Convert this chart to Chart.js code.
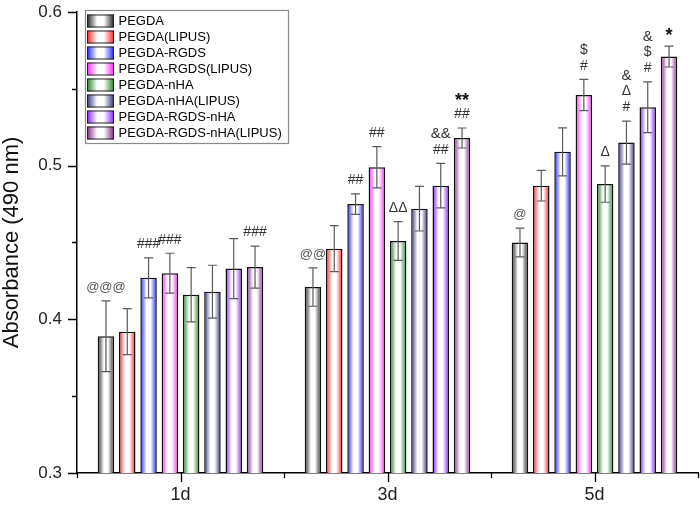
<!DOCTYPE html>
<html>
<head>
<meta charset="utf-8">
<script src="https://cdn.jsdelivr.net/npm/chart.js@4.4.1/dist/chart.umd.min.js"></script>
<style>
html,body{margin:0;padding:0;background:#fff;}
#wrap{width:700px;height:505px;}
</style>
</head>
<body>
<div id="wrap"><canvas id="c" width="700" height="505"></canvas></div>
<script>
// ---------- data ----------
const categories = ['1d', '3d', '5d'];
const seriesNames = ['PEGDA', 'PEGDA(LIPUS)', 'PEGDA-RGDS', 'PEGDA-RGDS(LIPUS)', 'PEGDA-nHA', 'PEGDA-nHA(LIPUS)', 'PEGDA-RGDS-nHA', 'PEGDA-RGDS-nHA(LIPUS)'];
const seriesColors = ['#1a1a1a', '#ff1a1a', '#1a1aff', '#ff1aff', '#1f7a1f', '#2a2a80', '#7f1aff', '#7f1a7f'];

const valPEGDA          = [0.389, 0.421, 0.450];
const valPEGDA_LIPUS    = [0.392, 0.446, 0.487];
const valRGDS           = [0.427, 0.475, 0.509];
const valRGDS_LIPUS     = [0.430, 0.499, 0.546];
const valNHA            = [0.416, 0.451, 0.488];
const valNHA_LIPUS      = [0.418, 0.472, 0.515];
const valRGDS_NHA       = [0.433, 0.487, 0.538];
const valRGDS_NHA_LIPUS = [0.434, 0.518, 0.571];

const errPEGDA          = [0.023, 0.0125, 0.0093];
const errPEGDA_LIPUS    = [0.015, 0.015, 0.010];
const errRGDS           = [0.013, 0.0067, 0.0156];
const errRGDS_LIPUS     = [0.013, 0.0134, 0.0102];
const errNHA            = [0.0176, 0.0126, 0.0118];
const errNHA_LIPUS      = [0.0172, 0.0145, 0.014];
const errRGDS_NHA       = [0.0195, 0.0145, 0.0165];
const errRGDS_NHA_LIPUS = [0.0137, 0.0065, 0.0068];

// significance marks, top line first
const sigPEGDA          = ['@@@', '@@', '@'];
const sigPEGDA_LIPUS    = ['', '', ''];
const sigRGDS           = ['###', '##', ''];
const sigRGDS_LIPUS     = ['###', '##', '$\n#'];
const sigNHA            = ['', 'ΔΔ', 'Δ'];
const sigNHA_LIPUS      = ['', '', '&\nΔ\n#'];
const sigRGDS_NHA       = ['', '&&\n##', '&\n$\n#'];
const sigRGDS_NHA_LIPUS = ['###', '**\n##', '*'];

const yTicks = [0.3, 0.35, 0.4, 0.45, 0.5, 0.55, 0.6];
const yTickLabels = ['0.3', '', '0.4', '', '0.5', '', '0.6'];
const yTitle = 'Absorbance (490 nm)';

const allValues = [valPEGDA, valPEGDA_LIPUS, valRGDS, valRGDS_LIPUS, valNHA, valNHA_LIPUS, valRGDS_NHA, valRGDS_NHA_LIPUS];
const allErrors = [errPEGDA, errPEGDA_LIPUS, errRGDS, errRGDS_LIPUS, errNHA, errNHA_LIPUS, errRGDS_NHA, errRGDS_NHA_LIPUS];
const allSigs = [sigPEGDA, sigPEGDA_LIPUS, sigRGDS, sigRGDS_LIPUS, sigNHA, sigNHA_LIPUS, sigRGDS_NHA, sigRGDS_NHA_LIPUS];

// ---------- helpers ----------
const FONT = "'Liberation Sans', Arial, Helvetica, sans-serif";
function hexToRgb(h) { const n = parseInt(h.slice(1), 16); return [(n >> 16) & 255, (n >> 8) & 255, n & 255]; }
function mix(h, t) { const [r, g, b] = hexToRgb(h); const f = c => Math.round(c + (255 - c) * t); return `rgb(${f(r)},${f(g)},${f(b)})`; }
function makeGrad(ctx, x0, x1, color) {
  const g = ctx.createLinearGradient(x0, 0, x1, 0);
  g.addColorStop(0, color);
  g.addColorStop(0.1, mix(color, 0.3));
  g.addColorStop(0.38, '#ffffff');
  g.addColorStop(0.62, '#ffffff');
  g.addColorStop(0.9, mix(color, 0.3));
  g.addColorStop(1, color);
  return g;
}

const decor = {
  id: 'decor',
  beforeDatasetsDraw(chart) {
    const ctx = chart.ctx;
    chart.data.datasets.forEach((ds, i) => {
      const meta = chart.getDatasetMeta(i);
      meta.data.forEach(el => {
        const p = el.getProps(['x', 'width'], true);
        el.options.backgroundColor = makeGrad(ctx, p.x - p.width / 2, p.x + p.width / 2, seriesColors[i]);
      });
    });
  },
  afterDatasetsDraw(chart) {
    const ctx = chart.ctx;
    const ys = chart.scales.y, xs = chart.scales.x;
    const area = chart.chartArea;
    ctx.save();
    chart.data.datasets.forEach((ds, i) => {
      const meta = chart.getDatasetMeta(i);
      meta.data.forEach((el, j) => {
        const v = allValues[i][j], e = allErrors[i][j];
        const x = el.x;
        const yt = ys.getPixelForValue(v + e), yb = ys.getPixelForValue(v - e);
        ctx.strokeStyle = '#5a5a5a';
        ctx.lineWidth = 1.2;
        ctx.beginPath();
        ctx.moveTo(x, yt); ctx.lineTo(x, yb);
        ctx.moveTo(x - 4.5, yt); ctx.lineTo(x + 4.5, yt);
        ctx.moveTo(x - 4.5, yb); ctx.lineTo(x + 4.5, yb);
        ctx.stroke();
        const s = allSigs[i][j];
        if (s) {
          const lines = s.split('\n').reverse();
          let yc = yt - 13.5;
          ctx.textAlign = 'center';
          ctx.textBaseline = 'middle';
          lines.forEach(line => {
            let size = 14, weight = 'normal', col = '#333';
            if (line.includes('*')) { size = 18; weight = 'bold'; col = '#111'; yc += 3; }
            else if (line.includes('&')) { size = 15; }
            else if (line.includes('@')) { col = '#555'; size = 13; }
            ctx.font = `${weight} ${size}px ${FONT}`;
            ctx.fillStyle = col;
            ctx.fillText(line, x, yc);
            yc -= 16;
          });
        }
      });
    });
    ctx.strokeStyle = '#000';
    ctx.lineWidth = 1.3;
    ctx.beginPath();
    yTicks.forEach((t, k) => {
      const y = Math.round(ys.getPixelForValue(t)) + 0.5;
      const len = yTickLabels[k] ? 9 : 5;
      ctx.moveTo(area.left - len, y); ctx.lineTo(area.left, y);
    });
    categories.forEach((c, j) => {
      const x = Math.round(xs.getPixelForValue(j)) + 0.5;
      ctx.moveTo(x, area.bottom); ctx.lineTo(x, area.bottom + 9);
    });
    for (let j = 0; j <= categories.length; j++) {
      const x = Math.round(xs.getPixelForValue(j - 0.5)) + 0.5;
      ctx.moveTo(x, area.bottom); ctx.lineTo(x, area.bottom + 5);
    }
    ctx.stroke();
    ctx.restore();
  },
  afterDraw(chart) {
    const ctx = chart.ctx;
    const bx = 85.5, by = 10.5, bw = 203, bh = 133;
    ctx.save();
    ctx.fillStyle = '#fff';
    ctx.fillRect(bx, by, bw, bh);
    ctx.strokeStyle = '#8a8a8a';
    ctx.lineWidth = 1.2;
    ctx.strokeRect(bx, by, bw, bh);
    chart.data.datasets.forEach((ds, i) => {
      const cy = 21 + i * 16;
      const sx = 87, sw = 27, sh = 13, sy = cy - sh / 2;
      ctx.fillStyle = makeGrad(ctx, sx, sx + sw, seriesColors[i]);
      ctx.fillRect(sx, sy, sw, sh);
      ctx.lineWidth = 1;
      ctx.strokeStyle = '#222';
      ctx.strokeRect(sx + 0.5, sy + 0.5, sw - 1, sh - 1);
      ctx.fillStyle = '#000';
      ctx.font = `13px ${FONT}`;
      ctx.textAlign = 'left';
      ctx.textBaseline = 'middle';
      ctx.fillText(ds.label, 118.5, cy + 0.5);
    });
    ctx.restore();
  }
};

Chart.defaults.font.family = FONT;

new Chart(document.getElementById('c').getContext('2d'), {
  type: 'bar',
  data: {
    labels: categories,
    datasets: seriesNames.map((name, i) => ({
      label: name,
      data: allValues[i],
      backgroundColor: () => '#ffffff',
      borderColor: '#111',
      borderWidth: 1.5,
      borderSkipped: false,
      categoryPercentage: 0.823,
      barPercentage: 0.775
    }))
  },
  options: {
    responsive: false,
    animation: false,
    layout: { padding: { top: 12, right: 2, left: 0, bottom: 0 } },
    plugins: { legend: { display: false }, tooltip: { enabled: false } },
    scales: {
      x: {
        grid: { display: true, drawOnChartArea: false, drawTicks: true, tickLength: 9, tickColor: 'rgba(0,0,0,0)', color: 'rgba(0,0,0,0)' },
        border: { display: true, color: '#000', width: 1.5 },
        ticks: { color: '#222', font: { size: 18 }, padding: 2, maxRotation: 0 },
        afterFit(s) { s.height = 32; s.paddingLeft = 0; s.paddingRight = 0; }
      },
      y: {
        min: 0.3, max: 0.6,
        afterBuildTicks(s) { s.ticks = yTicks.map(v => ({ value: v })); },
        grid: { display: true, drawOnChartArea: false, drawTicks: true, tickLength: 9, tickColor: 'rgba(0,0,0,0)', color: 'rgba(0,0,0,0)' },
        border: { display: true, color: '#000', width: 1.5 },
        ticks: {
          color: '#222', font: { size: 17 }, padding: 6,
          callback: (v, k) => yTickLabels[k]
        },
        title: { display: true, text: yTitle, color: '#111', font: { size: 22, lineHeight: 1.1 }, padding: { top: 0, bottom: 0 } },
        afterFit(s) { s.width = 77; s.paddingTop = 0; s.paddingBottom = 0; }
      }
    }
  },
  plugins: [decor]
});
</script>
</body>
</html>
